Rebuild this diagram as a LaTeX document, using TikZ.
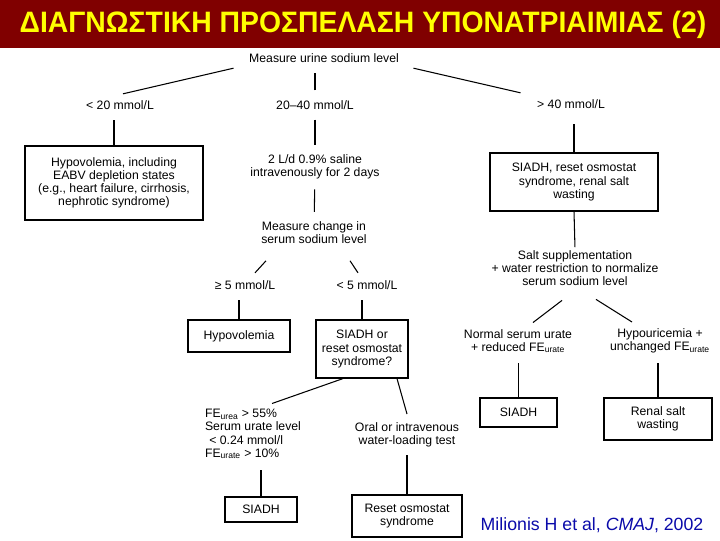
\documentclass[tikz,border=0pt]{standalone}
\usepackage{fontspec}
\setmainfont{Liberation Sans}
\usetikzlibrary{positioning}
\definecolor{titlered}{RGB}{128,0,0}
\definecolor{titleyellow}{RGB}{255,255,0}
\definecolor{citeblue}{RGB}{10,10,170}

\begin{document}
\begin{tikzpicture}[x=0.025cm, y=-0.025cm,
  font=\fontsize{8.7}{9.4}\selectfont,
  txt/.style={align=center, inner sep=1pt},
  box/.style={draw, line width=0.8pt, align=center, inner sep=2pt},
  link/.style={line width=0.75pt}]
\useasboundingbox[fill=white] (0,0) rectangle (720,540);
\fill[titlered] (0,0) rectangle (720,48);
\node[font=\bfseries\fontsize{21}{25}\selectfont, text=titleyellow] (title) at (363,25)
  {\scalebox{0.96}[1]{ΔΙΑΓΝΩΣΤΙΚΗ ΠΡΟΣΠΕΛΑΣΗ ΥΠΟΝΑΤΡΙΑΙΜΙΑΣ (2)}};

% urine sodium
\node[txt] (urine) at (324,58) {Measure urine sodium level};
\node[txt] (lo) at (120,105) {< 20 mmol/L};
\node[txt] (mid) at (315,105) {20--40 mmol/L};
\node[txt] (hi) at (571,104) {> 40 mmol/L};
\draw[link] ([shift={(-14,4)}]urine.south west) -- ([shift={(3,-5)}]lo.north);
\draw[link] ([shift={(13,4)}]urine.south east) -- ([shift={(-15,-5)}]hi.north west);
\draw[link, shorten <=6pt, shorten >=6pt] (mid.north) -- (mid.north |- urine.south);

% low branch
\node[box, minimum width=4.45cm, minimum height=1.85cm] (eabv) at (114,183)
  {Hypovolemia, including\\EABV depletion states\\(e.g., heart failure, cirrhosis,\\nephrotic syndrome)};
\draw[link, shorten >=6pt] (eabv.north) -- (eabv.north |- lo.south);

% middle branch
\node[txt] (saline) at (315,167) {2 L/d 0.9\% saline\\intravenously for 2 days};
\node[txt] (change) at (314,233) {Measure change in\\serum sodium level};
\draw[link, shorten <=6pt, shorten >=6pt] (mid) -- (saline);
\draw[link, shorten <=6pt, shorten >=6pt] (saline) -- (change);
\node[txt] (ge5) at (245,285) {≥ 5 mmol/L};
\node[txt] (lt5) at (367,285) {< 5 mmol/L};
\draw[link] ([shift={(-48,15)}]change.south) -- ([shift={(10,-6)}]ge5.north);
\draw[link] ([shift={(36,15)}]change.south) -- ([shift={(-9,-6)}]lt5.north);
\node[box, minimum width=2.55cm, minimum height=0.8cm] (hypo) at (239,336) {Hypovolemia};
\node[box, minimum width=2.3cm, minimum height=1.45cm] (siadhq) at (362,349)
  {SIADH or\\reset osmostat\\syndrome?};
\draw[link, shorten >=6pt] (hypo.north) -- (hypo.north |- ge5.south);
\draw[link, shorten >=6pt] (siadhq.north) -- (siadhq.north |- lt5.south);

\node[txt, align=left] (fe) at (253,434)
  {FE\textsubscript{urea} > 55\%\\Serum urate level\\\hspace{3pt}< 0.24 mmol/l\\FE\textsubscript{urate} > 10\%};
\node[txt] (oral) at (407,435) {Oral or intravenous\\water-loading test};
\draw[link] ([shift={(-19,0)}]siadhq.south) -- ([shift={(19,-4)}]fe.north);
\draw[link] ([shift={(35,0)}]siadhq.south) -- ([shift={(0,-7)}]oral.north);
\node[box, minimum width=1.8cm, minimum height=0.625cm] (siadhl) at (261,509.5) {SIADH};
\node[box, minimum width=2.75cm, minimum height=1.05cm] (reset) at (407,516)
  {Reset osmostat\\syndrome};
\draw[link, shorten >=7pt] (siadhl.north) -- (siadhl.north |- fe.south);
\draw[link, shorten >=4pt] (reset.north) -- (reset.north |- oral.south);

% high branch
\node[box, minimum width=4.2cm, minimum height=1.45cm] (renal) at (574,182)
  {SIADH, reset osmostat\\syndrome, renal salt\\wasting};
\draw[link, shorten >=10pt] (renal.north) -- (renal.north |- hi.south);
\node[txt] (salt) at (575,268) {Salt supplementation\\+ water restriction to normalize\\serum sodium level};
\draw[link, shorten >=1pt] (renal.south) -- (salt.north);
\node[txt] (normal) at (518,341) {Normal serum urate\\+ reduced FE\textsubscript{urate}};
\node[txt] (hypou) at (660,341) {Hypouricemia +\\unchanged FE\textsubscript{urate}};
\draw[link] ([shift={(-13,13)}]salt.south) -- ([shift={(15,-5)}]normal.north);
\draw[link] ([shift={(21,12)}]salt.south) -- ([shift={(-28,-5)}]hypou.north);
\node[box, minimum width=1.925cm, minimum height=0.725cm] (siadhr) at (518.5,412.5) {SIADH};
\node[box, minimum width=2.7cm, minimum height=1.05cm] (wasting) at (658,419)
  {Renal salt\\wasting};
\draw[link, shorten >=6pt] (siadhr.north) -- (siadhr.north |- normal.south);
\draw[link, shorten >=6pt] (wasting.north) -- (wasting.north |- hypou.south);

\node[font=\fontsize{12.6}{15}\selectfont, text=citeblue] (cite) at (592,525)
  {Milionis H et al, \textit{CMAJ}, 2002};
\end{tikzpicture}
\end{document}
